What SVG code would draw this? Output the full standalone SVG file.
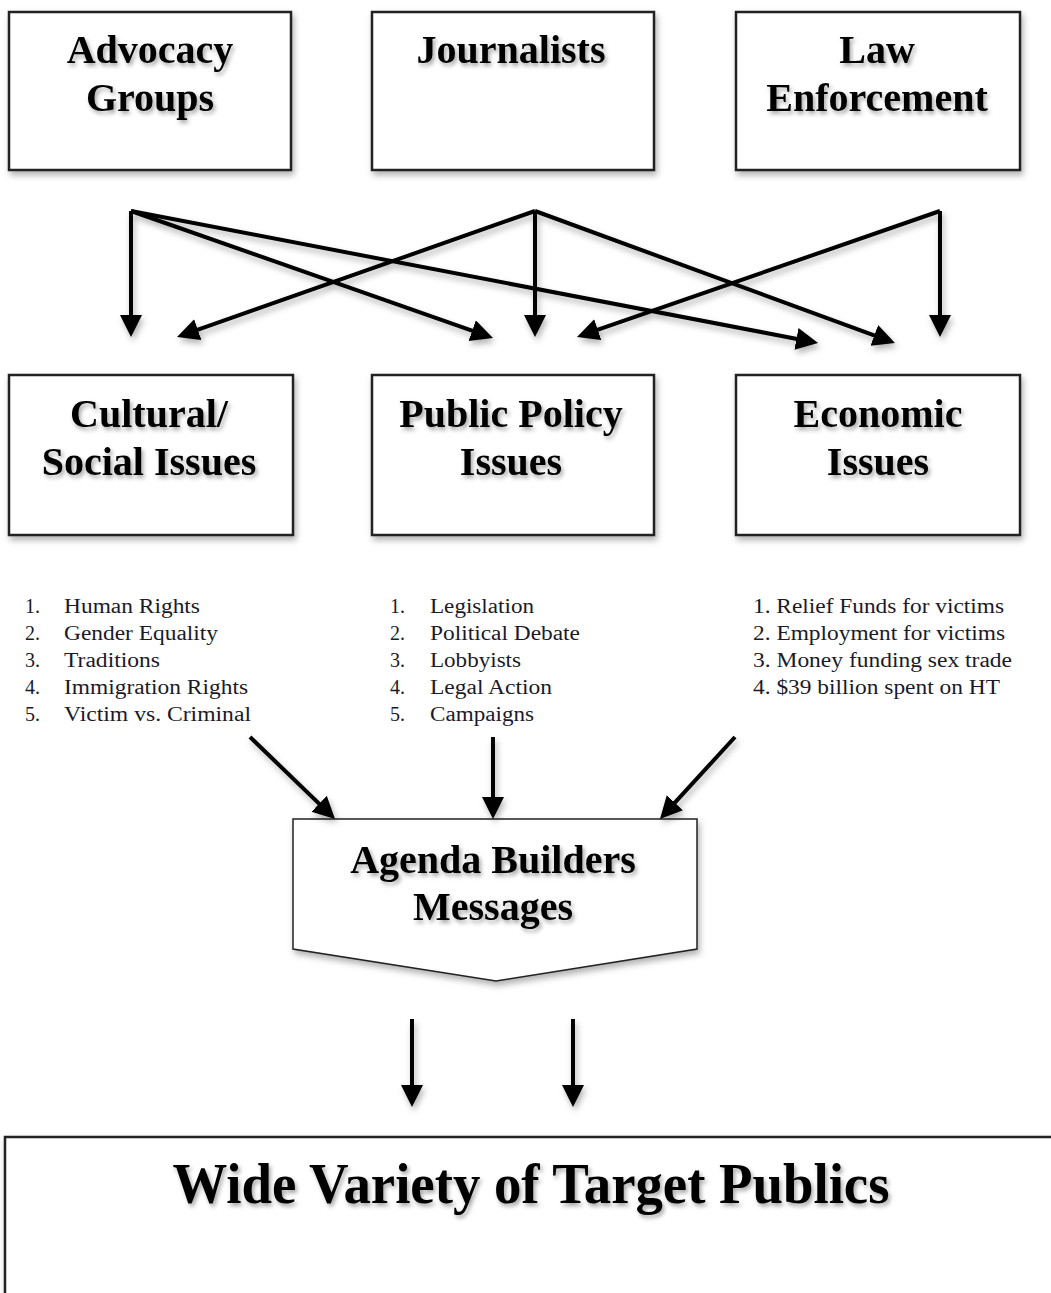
<svg xmlns="http://www.w3.org/2000/svg" width="1051" height="1293" viewBox="0 0 1051 1293">
<defs>
  <filter id="sh" x="-10%" y="-10%" width="130%" height="140%">
    <feDropShadow dx="2" dy="4" stdDeviation="3" flood-color="#000" flood-opacity="0.3"/>
  </filter>
  <filter id="lsh" filterUnits="userSpaceOnUse" x="0" y="0" width="1051" height="1293">
    <feDropShadow dx="2" dy="4" stdDeviation="3" flood-color="#000" flood-opacity="0.3"/>
  </filter>
  <filter id="tsh" x="-10%" y="-20%" width="130%" height="160%">
    <feDropShadow dx="2" dy="3" stdDeviation="2" flood-color="#000" flood-opacity="0.35"/>
  </filter>
  <marker id="ah" markerUnits="userSpaceOnUse" markerWidth="24" markerHeight="24" refX="2" refY="11" orient="auto">
    <path d="M0,0 L22,11 L0,22 z" fill="#000"/>
  </marker>
  <style>
    .box { fill: #fff; stroke: #222; stroke-width: 2.5; filter: url(#sh); }
    .title { font-family: "Liberation Serif", "Times New Roman", serif; font-weight: bold; font-size: 40px; fill: #000; text-anchor: middle; filter: url(#tsh); }
    .item { font-family: "Liberation Serif", "Times New Roman", serif; font-size: 20px; fill: #1a1a2a; }
    .conn { stroke: #000; stroke-width: 4; fill: none; marker-end: url(#ah); }
  </style>
</defs>
<rect width="1051" height="1293" fill="#fff"/>

<g id="advocacy">
  <rect class="box" x="9" y="12" width="282" height="158"/>
  <text class="title" x="150" y="63">Advocacy</text>
  <text class="title" x="150" y="111">Groups</text>
</g>
<g id="journalists">
  <rect class="box" x="372" y="12" width="282" height="158"/>
  <text class="title" x="511" y="63">Journalists</text>
</g>
<g id="law">
  <rect class="box" x="736" y="12" width="284" height="158"/>
  <text class="title" x="877" y="63">Law</text>
  <text class="title" x="877" y="111">Enforcement</text>
</g>

<g id="cultural">
  <rect class="box" x="9" y="375" width="284" height="160"/>
  <text class="title" x="149" y="427">Cultural/</text>
  <text class="title" x="149" y="475">Social Issues</text>
</g>
<g id="publicpolicy">
  <rect class="box" x="372" y="375" width="282" height="160"/>
  <text class="title" x="511" y="427">Public Policy</text>
  <text class="title" x="511" y="475">Issues</text>
</g>
<g id="economic">
  <rect class="box" x="736" y="375" width="284" height="160"/>
  <text class="title" x="878" y="427">Economic</text>
  <text class="title" x="878" y="475">Issues</text>
</g>

<g id="cultural-list">
  <text class="item" x="25" y="613">1.</text><text class="item" x="64" y="613" textLength="136" lengthAdjust="spacingAndGlyphs">Human Rights</text>
  <text class="item" x="25" y="640">2.</text><text class="item" x="64" y="640" textLength="154" lengthAdjust="spacingAndGlyphs">Gender Equality</text>
  <text class="item" x="25" y="667">3.</text><text class="item" x="64" y="667" textLength="96" lengthAdjust="spacingAndGlyphs">Traditions</text>
  <text class="item" x="25" y="694">4.</text><text class="item" x="64" y="694" textLength="184" lengthAdjust="spacingAndGlyphs">Immigration Rights</text>
  <text class="item" x="25" y="721">5.</text><text class="item" x="64" y="721" textLength="187" lengthAdjust="spacingAndGlyphs">Victim vs. Criminal</text>
</g>
<g id="policy-list">
  <text class="item" x="390" y="613">1.</text><text class="item" x="430" y="613" textLength="104" lengthAdjust="spacingAndGlyphs">Legislation</text>
  <text class="item" x="390" y="640">2.</text><text class="item" x="430" y="640" textLength="150" lengthAdjust="spacingAndGlyphs">Political Debate</text>
  <text class="item" x="390" y="667">3.</text><text class="item" x="430" y="667" textLength="91" lengthAdjust="spacingAndGlyphs">Lobbyists</text>
  <text class="item" x="390" y="694">4.</text><text class="item" x="430" y="694" textLength="122" lengthAdjust="spacingAndGlyphs">Legal Action</text>
  <text class="item" x="390" y="721">5.</text><text class="item" x="430" y="721" textLength="104" lengthAdjust="spacingAndGlyphs">Campaigns</text>
</g>
<g id="economic-list">
  <text class="item" x="753" y="613" textLength="251" lengthAdjust="spacingAndGlyphs">1. Relief Funds for victims</text>
  <text class="item" x="753" y="640" textLength="252" lengthAdjust="spacingAndGlyphs">2. Employment for victims</text>
  <text class="item" x="753" y="667" textLength="259" lengthAdjust="spacingAndGlyphs">3. Money funding sex trade</text>
  <text class="item" x="753" y="694" textLength="247" lengthAdjust="spacingAndGlyphs">4. $39 billion spent on HT</text>
</g>

<g id="agenda">
  <path class="box" d="M293,819 L697,819 L697,949 L496,981 L293,949 Z" style="stroke-width:1.5"/>
  <text class="title" x="493" y="873">Agenda Builders</text>
  <text class="title" x="493" y="920">Messages</text>
</g>

<g id="targets">
  <rect class="box" x="5" y="1137" width="1100" height="220"/>
  <text class="title" x="531" y="1203" style="font-size:58px" textLength="717" lengthAdjust="spacingAndGlyphs">Wide Variety of Target Publics</text>
</g>

<g id="connectors" filter="url(#lsh)">
  <line class="conn" x1="131" y1="211" x2="131" y2="317"/>
  <line class="conn" x1="131" y1="211" x2="474.1" y2="331.4"/>
  <line class="conn" x1="131" y1="211" x2="798.4" y2="339.2"/>
  <line class="conn" x1="535" y1="211" x2="195.9" y2="330.4"/>
  <line class="conn" x1="535" y1="211" x2="535" y2="317"/>
  <line class="conn" x1="535" y1="211" x2="876.2" y2="336.1"/>
  <line class="conn" x1="940" y1="211" x2="595.9" y2="330.4"/>
  <line class="conn" x1="940" y1="211" x2="940" y2="317"/>
  <line class="conn" x1="250" y1="737" x2="320.6" y2="805.1"/>
  <line class="conn" x1="493" y1="737" x2="493" y2="799"/>
  <line class="conn" x1="735" y1="737" x2="673.5" y2="804.2"/>
  <line class="conn" x1="412" y1="1019" x2="412" y2="1087"/>
  <line class="conn" x1="573" y1="1019" x2="573" y2="1087"/>
</g>
</svg>
